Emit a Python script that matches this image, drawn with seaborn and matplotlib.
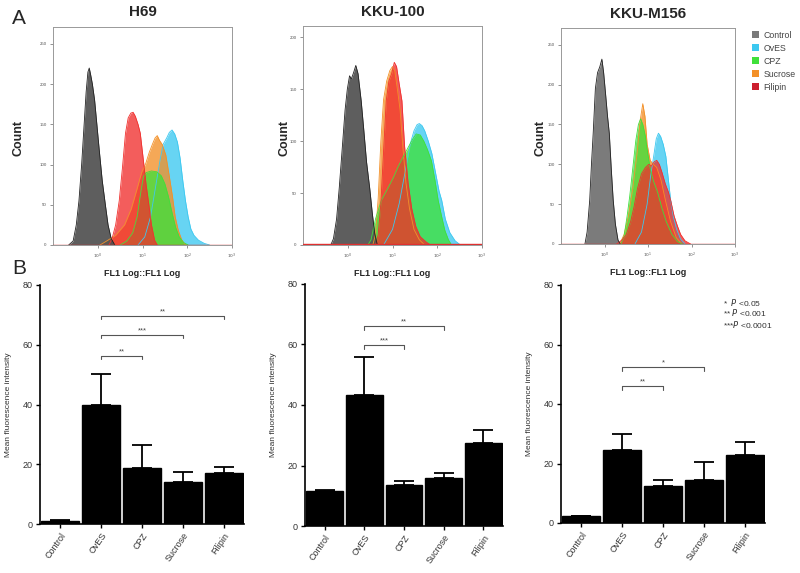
import numpy as np
import pandas as pd
import matplotlib
matplotlib.use("Agg")
import matplotlib.pyplot as plt
from matplotlib.patches import Patch
import seaborn as sns

sns.set_style("white")
plt.rcParams['font.family'] = ['Liberation Sans', 'DejaVu Sans']

# ---------------- data ----------------
groups = ["Control", "OvES", "CPZ", "Sucrose", "Filipin"]
panel_titles = ["H69", "KKU-100", "KKU-M156"]
hist_ymax = [271, 211, 271]
hist_yticks = [[0, 50, 100, 150, 200, 250], [0, 50, 100, 150, 200], [0, 50, 100, 150, 200, 250]]

# histogram curves: (log10 FL1, count)
h69_control = [(0.35, 0), (0.45, 5), (0.52, 25), (0.58, 55), (0.64, 100), (0.69, 145), (0.74, 190), (0.78, 215),
               (0.81, 220), (0.84, 212), (0.88, 200), (0.93, 180), (0.98, 150), (1.03, 120), (1.10, 80),
               (1.17, 50), (1.23, 25), (1.30, 8), (1.38, 0)]
h69_oves = [(1.90, 0), (2.05, 10), (2.18, 35), (2.30, 75), (2.40, 108), (2.46, 125), (2.54, 133), (2.60, 140),
            (2.66, 143), (2.72, 138), (2.78, 128), (2.84, 108), (2.90, 80), (2.96, 55), (3.02, 35), (3.08, 20),
            (3.15, 12), (3.25, 6), (3.38, 2), (3.50, 0)]
h69_cpz = [(1.50, 0), (1.65, 5), (1.78, 15), (1.88, 35), (1.96, 65), (2.02, 85), (2.08, 90), (2.20, 92),
           (2.32, 91), (2.42, 86), (2.50, 76), (2.58, 60), (2.66, 40), (2.74, 22), (2.82, 10), (2.92, 3), (3.02, 0)]
h69_sucrose = [(1.05, 0), (1.20, 5), (1.40, 12), (1.60, 25), (1.75, 45), (1.88, 70), (1.98, 90), (2.07, 101),
               (2.15, 115), (2.22, 125), (2.28, 133), (2.33, 136), (2.38, 130), (2.44, 125), (2.52, 112),
               (2.60, 85), (2.67, 60), (2.73, 35), (2.80, 18), (2.88, 6), (2.96, 0)]
h69_filipin = [(1.25, 0), (1.32, 8), (1.40, 25), (1.48, 55), (1.55, 95), (1.62, 139), (1.68, 158), (1.74, 164),
               (1.79, 165), (1.84, 160), (1.90, 150), (1.95, 139), (2.02, 105), (2.08, 75), (2.13, 55),
               (2.20, 25), (2.27, 6), (2.33, 0)]

kku100_control = [(0.62, 0), (0.68, 6), (0.75, 25), (0.81, 55), (0.88, 95), (0.94, 130), (0.99, 150), (1.04, 163),
                  (1.08, 160), (1.13, 166), (1.18, 173), (1.23, 165), (1.30, 139), (1.36, 110), (1.42, 80),
                  (1.49, 55), (1.55, 30), (1.60, 12), (1.66, 0)]
kku100_oves = [(1.80, 0), (2.00, 15), (2.15, 40), (2.28, 70), (2.40, 98), (2.48, 110), (2.55, 116), (2.60, 117),
               (2.66, 115), (2.72, 110), (2.80, 100), (2.88, 88), (2.96, 70), (3.04, 52), (3.10, 43), (3.18, 25),
               (3.28, 12), (3.40, 4), (3.52, 0)]
kku100_cpz = [(1.45, 0), (1.52, 5), (1.62, 25), (1.75, 43), (1.90, 55), (2.02, 65), (2.12, 75), (2.25, 86),
              (2.35, 94), (2.45, 102), (2.53, 107), (2.62, 106), (2.70, 100), (2.78, 92), (2.87, 81), (2.95, 62),
              (3.02, 43), (3.10, 27), (3.17, 14), (3.25, 5), (3.32, 0)]
kku100_sucrose = [(1.56, 0), (1.62, 10), (1.68, 45), (1.74, 100), (1.80, 140), (1.87, 158), (1.94, 168),
                  (2.00, 172), (2.05, 168), (2.11, 150), (2.17, 130), (2.23, 95), (2.30, 60), (2.38, 35),
                  (2.48, 15), (2.60, 5), (2.72, 0)]
kku100_filipin = [(1.62, 0), (1.68, 10), (1.74, 40), (1.80, 90), (1.86, 139), (1.92, 158), (1.98, 165),
                  (2.04, 176), (2.09, 172), (2.15, 155), (2.21, 139), (2.27, 95), (2.35, 59), (2.43, 35),
                  (2.52, 18), (2.62, 8), (2.75, 3), (2.85, 0)]

m156_control = [(0.55, 0), (0.60, 15), (0.66, 55), (0.70, 100), (0.74, 139), (0.79, 195), (0.84, 215), (0.89, 222),
                (0.94, 232), (0.98, 215), (1.03, 185), (1.07, 160), (1.11, 139), (1.16, 90), (1.20, 55),
                (1.25, 25), (1.31, 5), (1.36, 0)]
m156_oves = [(1.70, 0), (1.85, 15), (1.98, 50), (2.06, 85), (2.13, 110), (2.19, 132), (2.24, 139), (2.29, 135),
             (2.35, 125), (2.41, 110), (2.47, 80), (2.52, 55), (2.58, 35), (2.66, 18), (2.75, 6), (2.85, 0)]
m156_cpz = [(1.38, 0), (1.45, 10), (1.52, 35), (1.58, 60), (1.65, 95), (1.72, 130), (1.78, 150), (1.83, 157),
            (1.88, 150), (1.94, 135), (1.99, 115), (2.05, 95), (2.12, 80), (2.22, 65), (2.32, 45), (2.42, 28),
            (2.55, 12), (2.68, 3), (2.80, 0)]
m156_sucrose = [(1.35, 0), (1.45, 12), (1.55, 35), (1.65, 70), (1.75, 115), (1.82, 155), (1.88, 176), (1.93, 160),
                (1.98, 125), (2.05, 105), (2.12, 100), (2.20, 96), (2.30, 80), (2.40, 55), (2.52, 28), (2.65, 8),
                (2.78, 0)]
m156_filipin = [(1.28, 0), (1.40, 5), (1.50, 12), (1.60, 28), (1.68, 47), (1.76, 70), (1.85, 88), (1.94, 96),
                (2.02, 100), (2.08, 98), (2.14, 103), (2.20, 105), (2.26, 100), (2.32, 90), (2.40, 75), (2.47, 65),
                (2.52, 55), (2.60, 35), (2.68, 22), (2.75, 12), (2.85, 4), (2.98, 0)]

# bar charts: mean and upper error
h69_mean = [0.9, 39.7, 18.7, 13.9, 17.0]
h69_err = [0.4, 10.5, 7.8, 3.6, 2.2]
kku100_mean = [11.6, 43.3, 13.7, 15.9, 27.5]
kku100_err = [0.2, 12.6, 1.1, 1.6, 4.2]
m156_mean = [2.5, 24.6, 12.5, 14.5, 22.8]
m156_err = [0.0, 5.4, 2.0, 5.9, 4.5]

# significance brackets: (group a, group b, y, label)
h69_sig = [("OvES", "CPZ", 56.3, "**"), ("OvES", "Sucrose", 63.3, "***"), ("OvES", "Filipin", 69.7, "**")]
kku100_sig = [("OvES", "CPZ", 59.8, "***"), ("OvES", "Sucrose", 66.1, "**")]
m156_sig = [("OvES", "CPZ", 45.9, "**"), ("OvES", "Sucrose", 52.4, "*")]

colors = {"Control": "#505050", "OvES": "#3cc8f0", "CPZ": "#3fe03a", "Sucrose": "#f39028", "Filipin": "#f0302e"}
legend_colors = {"Control": "#7a7a7a", "OvES": "#3cc8f0", "CPZ": "#3fe03a", "Sucrose": "#f39028", "Filipin": "#cc1f2e"}

hist_sets = [
    {"Control": h69_control, "OvES": h69_oves, "CPZ": h69_cpz, "Sucrose": h69_sucrose, "Filipin": h69_filipin},
    {"Control": kku100_control, "OvES": kku100_oves, "CPZ": kku100_cpz, "Sucrose": kku100_sucrose, "Filipin": kku100_filipin},
    {"Control": m156_control, "OvES": m156_oves, "CPZ": m156_cpz, "Sucrose": m156_sucrose, "Filipin": m156_filipin},
]
bar_sets = [(h69_mean, h69_err, h69_sig), (kku100_mean, kku100_err, kku100_sig), (m156_mean, m156_err, m156_sig)]

# ---------------- layout (pixel boxes) ----------------
W, H = 800, 573
fig = plt.figure(figsize=(8, 5.73), dpi=100)


def box(x0, y0, x1, y1):
    return [x0 / W, 1 - y1 / H, (x1 - x0) / W, (y1 - y0) / H]


hist_boxes = [(53, 27, 232, 245), (303, 26, 482, 245), (561, 28, 735, 244)]
bar_boxes = [(40, 285, 244, 524), (305, 284, 503, 526), (561, 285, 765, 523)]
draw_order = ["OvES", "Sucrose", "CPZ", "Filipin", "Control"]
title_y = [12, 12, 14]

for i in range(3):
    ax = fig.add_axes(box(*hist_boxes[i]))
    curves = hist_sets[i]
    for name in draw_order:
        pts = curves[name]
        df = pd.DataFrame({"x": [10 ** p[0] for p in pts], "n": [p[1] for p in pts]})
        ctrl = (name == "Control")
        fc = colors[name]
        if i == 2 and ctrl:
            fc = "#707070"
        ax.fill_between(df["x"], df["n"], 0, color=fc, alpha=0.92 if ctrl else 0.78, lw=0, zorder=2)
        sns.lineplot(data=df, x="x", y="n", ax=ax, color=("#222222" if ctrl else fc), lw=0.6, zorder=3)
    ax.axhline(0.5, color="#e03030", lw=1.0, zorder=4)
    ax.set_xscale("log")
    ax.set_xlim(1, 1e4)
    ax.set_ylim(0, hist_ymax[i])
    ax.set_xticks([10, 100, 1000, 10000])
    ax.set_xticklabels(["$10^{0}$", "$10^{1}$", "$10^{2}$", "$10^{3}$"], fontsize=3.2, color="#555555")
    ax.set_yticks(hist_yticks[i])
    ax.set_yticklabels([str(v) for v in hist_yticks[i]], fontsize=3.2, color="#555555")
    ax.tick_params(axis="both", which="major", length=2.5, width=0.5, color="#666666", pad=2, direction="out",
                   bottom=True, left=True)
    ax.tick_params(axis="both", which="minor", length=1.2, width=0.4, color="#888888", bottom=True)
    ax.set_yticks(np.arange(0, hist_ymax[i], 10), minor=True)
    for s in ax.spines.values():
        s.set_color("#999999")
        s.set_linewidth(0.7)
    ax.set_xlabel("FL1 Log::FL1 Log", fontsize=6.5, fontweight="bold", labelpad=6)
    ax.set_ylabel("")
    cx = (hist_boxes[i][0] + hist_boxes[i][2]) / 2
    fig.text(cx / W, 1 - title_y[i] / H, panel_titles[i], fontsize=11, fontweight="bold", ha="center", va="center")

fig.text(18 / W, 1 - 138 / H, "Count", rotation=90, ha="center", va="center", fontsize=9, fontweight="bold")
fig.text(284 / W, 1 - 138 / H, "Count", rotation=90, ha="center", va="center", fontsize=9, fontweight="bold")
fig.text(541 / W, 1 - 138 / H, "Count", rotation=90, ha="center", va="center", fontsize=9, fontweight="bold")

handles = [Patch(facecolor=legend_colors[g], edgecolor="none") for g in groups]
fig.legend(handles, groups, loc="upper left", bbox_to_anchor=(744 / W, 1 - 23 / H), frameon=False,
           fontsize=6.3, handlelength=0.8, handleheight=0.8, labelspacing=0.45, handletextpad=0.5,
           labelcolor="#444444")

for i in range(3):
    ax = fig.add_axes(box(*bar_boxes[i]))
    mean, err, sig = bar_sets[i]
    df = pd.DataFrame({"group": groups, "value": mean})
    sns.barplot(data=df, x="group", y="value", order=groups, color="black", saturation=1,
                width=0.93, errorbar=None, ax=ax, edgecolor="black")
    xs = np.arange(len(groups))
    ax.errorbar(xs, mean, yerr=[np.zeros(len(err)), err], fmt="none", ecolor="black",
                elinewidth=1.3, capsize=7.5, capthick=1.3, zorder=5)
    for a, b, y, lab in sig:
        xa, xb = groups.index(a), groups.index(b)
        ax.plot([xa, xa, xb, xb], [y - 1.2, y, y, y - 1.2], color="#555555", lw=0.8, zorder=6)
        ax.text((xa + xb) / 2, y + 0.2, lab, ha="center", va="bottom", fontsize=5.5, color="#444444")
    ax.set_xlim(-0.5, 4.5)
    ax.set_ylim(0, 80)
    ax.set_yticks([0, 20, 40, 60, 80])
    ax.set_yticklabels(["0", "20", "40", "60", "80"], fontsize=6.5, color="#333333")
    ax.set_xticks(xs)
    ax.set_xticklabels(groups, rotation=55, ha="right", rotation_mode="anchor", fontsize=6.5, color="#333333")
    ax.tick_params(axis="both", length=3, width=1, color="black", pad=2, bottom=True, left=True)
    sns.despine(ax=ax)
    for s in ["left", "bottom"]:
        ax.spines[s].set_color("black")
        ax.spines[s].set_linewidth(1.2)
    ax.set_xlabel("")
    ax.set_ylabel("Mean fluorescence intensity", fontsize=6, color="#333333", labelpad=8)

fig.text(723 / W, 1 - 303 / H, "*  $P$ <0.05", fontsize=6, color="#333333", va="center")
fig.text(723 / W, 1 - 313 / H, "** $P$ <0.001", fontsize=6, color="#333333", va="center")
fig.text(723 / W, 1 - 324 / H, "***$P$ <0.0001", fontsize=6, color="#333333", va="center")

fig.text(12 / W, 1 - 18 / H, "A", fontsize=15, ha="left", va="center")
fig.text(12 / W, 1 - 268 / H, "B", fontsize=15, ha="left", va="center")

fig.savefig("out.png", dpi=100)
